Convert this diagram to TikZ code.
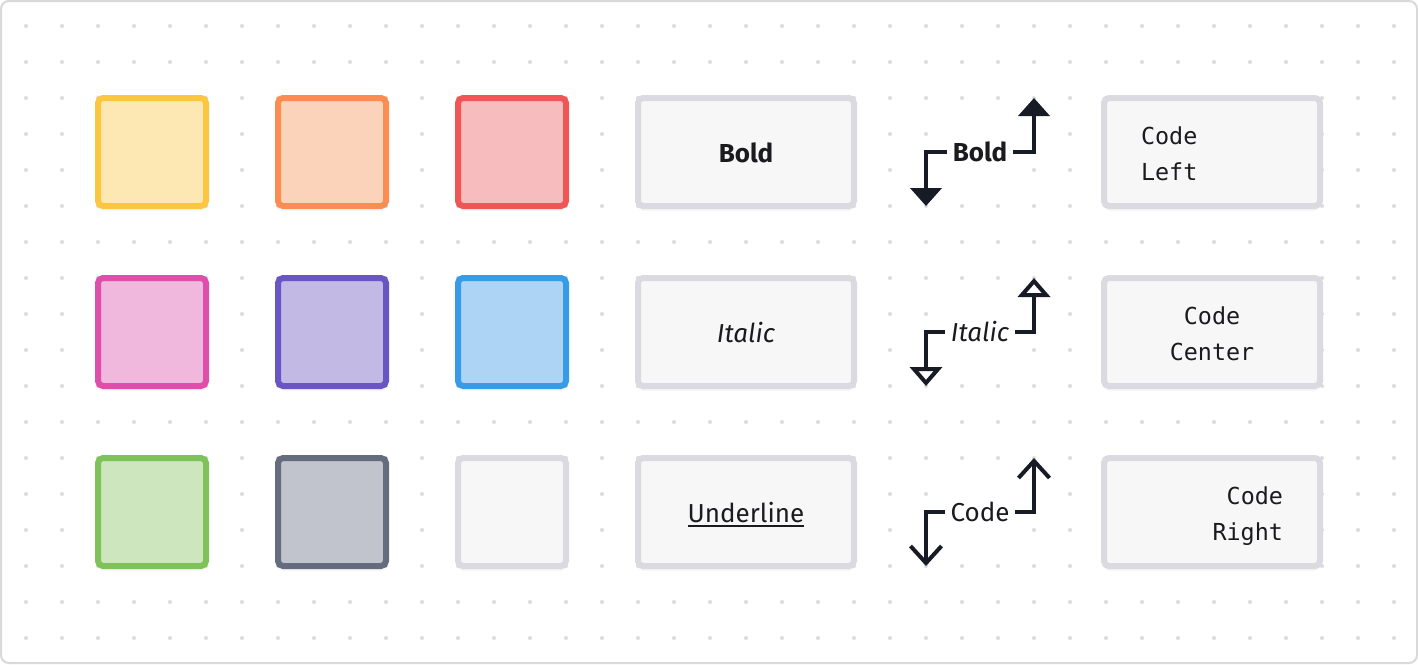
\documentclass[tikz,border=0pt]{standalone}
\usepackage{fontspec}
\setmainfont{Fira Sans}
\setmonofont{DejaVu Sans Mono}
\usepackage{tikz}
\usetikzlibrary{arrows.meta,shadows}

\definecolor{ink}{HTML}{161B26}
\definecolor{txt}{HTML}{1B1B1F}
\definecolor{dotgray}{HTML}{DCDCDC}
\definecolor{framegray}{HTML}{D9D9D9}
\definecolor{boxgray}{HTML}{DADAE0}
\definecolor{boxfill}{HTML}{F7F7F7}
\definecolor{yelS}{HTML}{FBC640}\definecolor{yelF}{HTML}{FDE8B4}
\definecolor{oraS}{HTML}{FB8C52}\definecolor{oraF}{HTML}{FBD3BA}
\definecolor{redS}{HTML}{EF5656}\definecolor{redF}{HTML}{F7BCBD}
\definecolor{pnkS}{HTML}{DD4FAB}\definecolor{pnkF}{HTML}{EFB8DC}
\definecolor{purS}{HTML}{6A55C5}\definecolor{purF}{HTML}{C2B9E5}
\definecolor{bluS}{HTML}{379CE8}\definecolor{bluF}{HTML}{AED4F5}
\definecolor{grnS}{HTML}{7DC359}\definecolor{grnF}{HTML}{CDE6BD}
\definecolor{slaS}{HTML}{646C7D}\definecolor{slaF}{HTML}{C1C4CC}

\newcommand{\ulined}[1]{\setbox0\hbox{#1}\rlap{\rule[-2.2pt]{\wd0}{1pt}}\box0}

\begin{document}
\begin{tikzpicture}[x=0.5pt, y=-0.5pt,
    swatch/.style={draw, line width=3pt, rounded corners=2.5pt, minimum size=54pt, inner sep=0pt,
        drop shadow={shadow xshift=0pt, shadow yshift=-2.5pt, opacity=0.07}},
    textbox/.style={draw=boxgray, fill=boxfill, line width=3pt, rounded corners=2.5pt,
        minimum width=108pt, minimum height=54pt, inner sep=0pt, text=txt,
        text height=10.5pt, text depth=0pt, font=\fontsize{13}{16}\selectfont,
        drop shadow={shadow xshift=0pt, shadow yshift=-2.5pt, opacity=0.07}},
    codebox/.style={textbox, text width=71pt, inner xsep=18.5pt, text height=9pt, text depth=17pt,
        font=\ttfamily\fontsize{11.7}{18}\selectfont},
    lbl/.style={fill=white, inner xsep=3pt, inner ysep=0pt, minimum height=22pt, outer sep=0pt,
        text=txt, font=\fontsize{13}{16}\selectfont},
    conn/.style={draw=ink, line width=2pt, line join=miter},
    solidtip/.style={conn, -{Triangle[width=15.5pt,length=9pt]}},
    opentip/.style={conn, -{Triangle[fill=white,width=16pt,length=9.5pt]}},
    linetip/.style={conn, -{Straight Barb[width=15.5pt,length=8.5pt]}}]

    \useasboundingbox (0,0) rectangle (1418,664);
    % Background
    \fill[white] (0,0) rectangle (1418,664);
    \foreach \i in {0,...,38}
        \foreach \j in {0,...,17}
            \fill[dotgray] (26+36*\i, 26+36*\j) circle (1pt);
    \draw[framegray, line width=1pt, rounded corners=4pt] (1,1) rectangle (1417,663);

    % Nodes
    \node[swatch, draw=yelS, fill=yelF] (s1) at (152,152) {};
    \node[swatch, draw=oraS, fill=oraF] (s2) at (332,152) {};
    \node[swatch, draw=redS, fill=redF] (s3) at (512,152) {};
    \node[swatch, draw=pnkS, fill=pnkF] (s4) at (152,332) {};
    \node[swatch, draw=purS, fill=purF] (s5) at (332,332) {};
    \node[swatch, draw=bluS, fill=bluF] (s6) at (512,332) {};
    \node[swatch, draw=grnS, fill=grnF] (s7) at (152,512) {};
    \node[swatch, draw=slaS, fill=slaF] (s8) at (332,512) {};
    \node[swatch, draw=boxgray, fill=boxfill] (s9) at (512,512) {};

    \node[textbox] (t1) at (746,152) {\bfseries Bold};
    \node[textbox] (t2) at (746,332) {\itshape Italic};
    \node[textbox] (t3) at (746,512) {\ulined{Underline}};

    \node[codebox, align=left] (c1) at (1212,152) {Code\\Left};
    \node[codebox, align=center] (c2) at (1212,332) {Code\\Center};
    \node[codebox, align=right] (c3) at (1212,512) {Code\\Right};

    \node[lbl] (l1) at (980,152) {\bfseries Bold};
    \node[lbl] (l2) at (980,332) {\itshape Italic};
    \node[lbl] (l3) at (980,512) {Code};
    \coordinate (l1a) at (926,206); \coordinate (l1b) at (1034,98);
    \coordinate (l2a) at (926,386); \coordinate (l2b) at (1034,278);
    \coordinate (l3a) at (926,566); \coordinate (l3b) at (1034,458);

    % Edges
    \draw[solidtip] (l1) -| (l1a);
    \draw[solidtip] (l1) -| (l1b);
    \draw[opentip] (l2) -| (l2a);
    \draw[opentip] (l2) -| (l2b);
    \draw[linetip] (l3) -| (l3a);
    \draw[linetip] (l3) -| (l3b);
\end{tikzpicture}
\end{document}
